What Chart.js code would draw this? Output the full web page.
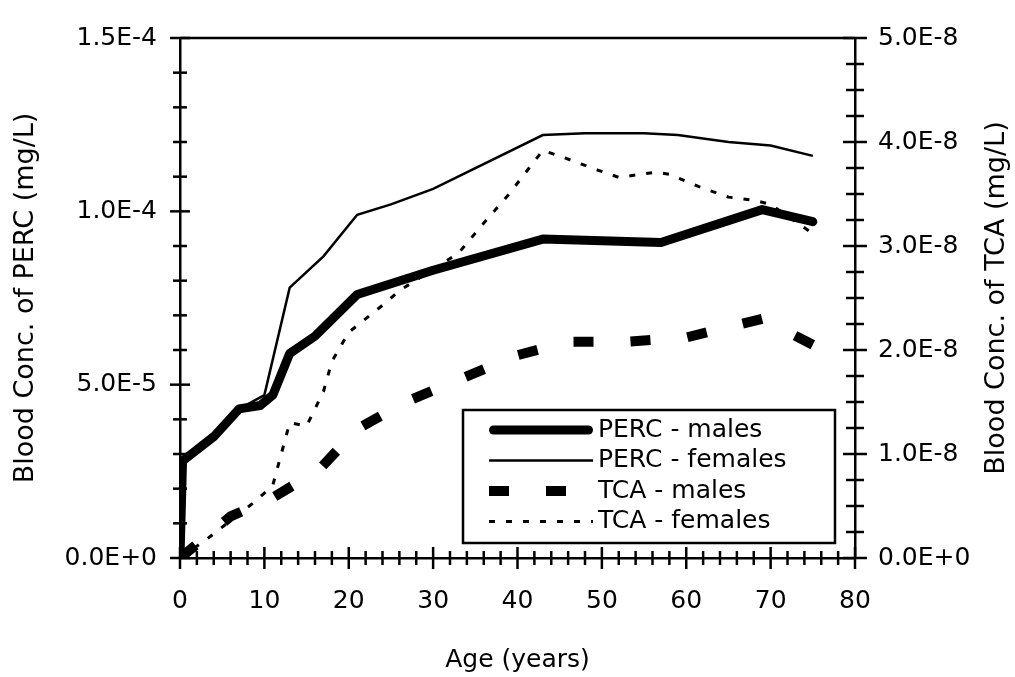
<!DOCTYPE html>
<html lang="en">
<head>
<meta charset="UTF-8" />
<title>Blood Conc. of PERC and TCA by age</title>
<script src="https://cdn.jsdelivr.net/npm/chart.js@4"></script>
<style>
  body { margin: 0; background: #fff; }
  #wrap { width: 1015px; height: 677px; }
</style>
</head>
<body>
<div id="wrap"><canvas id="chart" width="1015" height="677"></canvas></div>
<script>
// values: age in years, blood concentration in mg/L
const percMalesAge = [0, 0.3, 4, 7, 9.5, 11, 13, 16, 21, 30, 43, 50, 57, 69, 75];
const percMalesConc = [0, 2.8e-5, 3.5e-5, 4.3e-5, 4.4e-5, 4.7e-5, 5.9e-5, 6.4e-5, 7.6e-5, 8.3e-5, 9.2e-5, 9.15e-5, 9.1e-5, 1.005e-4, 9.7e-5];

const percFemalesAge = [0, 0.3, 4, 7, 10, 13, 17, 21, 25, 30, 43, 48, 55, 59, 65, 70, 75];
const percFemalesConc = [0, 2.8e-5, 3.5e-5, 4.3e-5, 4.7e-5, 7.8e-5, 8.7e-5, 9.9e-5, 1.02e-4, 1.065e-4, 1.22e-4, 1.225e-4, 1.225e-4, 1.22e-4, 1.2e-4, 1.19e-4, 1.16e-4];

const tcaMalesAge = [0, 6, 11, 16.5, 21, 27, 33.5, 40, 46, 53, 60, 69, 75];
const tcaMalesConc = [0, 0.4e-8, 0.58e-8, 0.85e-8, 1.24e-8, 1.51e-8, 1.73e-8, 1.95e-8, 2.08e-8, 2.08e-8, 2.12e-8, 2.3e-8, 2.05e-8];

const tcaFemalesAge = [0, 3, 9, 11, 13, 15, 17, 18, 20, 24, 26, 33, 36, 39, 43, 45.5, 49.5, 52, 56.5, 58, 61.5, 65, 68, 70, 75];
const tcaFemalesConc = [0, 0.17e-8, 0.55e-8, 0.7e-8, 1.3e-8, 1.27e-8, 1.6e-8, 1.89e-8, 2.17e-8, 2.43e-8, 2.57e-8, 2.93e-8, 3.22e-8, 3.5e-8, 3.92e-8, 3.85e-8, 3.73e-8, 3.66e-8, 3.71e-8, 3.69e-8, 3.57e-8, 3.47e-8, 3.44e-8, 3.4e-8, 3.12e-8];

const ageMin = 0, ageMax = 80, ageStep = 10, ageMinor = 2;
const percMax = 1.5e-4, percStep = 5e-5, percMinor = 1e-5;
const tcaMax = 5e-8, tcaStep = 1e-8, tcaMinor = 2.5e-9;
const tcaTitle = "Blood Conc. of TCA (mg/L)";

const FONT = "'DejaVu Sans', 'Liberation Sans', sans-serif";
Chart.defaults.font.family = FONT;
Chart.defaults.font.size = 25;
Chart.defaults.color = "#000";

function pairs(xs, ys) {
  return xs.map((x, i) => ({ x: x, y: ys[i] }));
}

function sci(v) {
  return Number(v).toExponential(1).toUpperCase();
}

// tick marks that cross the axis lines, plus the top frame line
const crossTicks = {
  id: "crossTicks",
  afterDraw(chart) {
    const { ctx, chartArea: ca, scales } = chart;
    ctx.save();
    ctx.strokeStyle = "#000";
    ctx.lineWidth = 2.5;
    const seg = (x1, y1, x2, y2) => {
      ctx.beginPath();
      ctx.moveTo(x1, y1);
      ctx.lineTo(x2, y2);
      ctx.stroke();
    };
    seg(ca.left, ca.top, ca.right, ca.top);

    const nx = Math.round((ageMax - ageMin) / ageMinor);
    for (let i = 0; i <= nx; i++) {
      const v = ageMin + i * ageMinor;
      const px = scales.x.getPixelForValue(v);
      const len = v % ageStep === 0 ? 11 : 7;
      seg(px, ca.bottom - len, px, ca.bottom + len);
    }
    const ny = Math.round(percMax / percMinor);
    for (let i = 0; i <= ny; i++) {
      const py = scales.y.getPixelForValue(i * percMinor);
      const major = i % Math.round(percStep / percMinor) === 0;
      seg(ca.left - (major ? 10 : 7), py, ca.left + (major ? 10 : 7), py);
    }
    const ny2 = Math.round(tcaMax / tcaMinor);
    for (let i = 0; i <= ny2; i++) {
      const py = scales.y2.getPixelForValue(i * tcaMinor);
      const major = i % Math.round(tcaStep / tcaMinor) === 0;
      seg(ca.right - (major ? 12 : 9), py, ca.right + (major ? 12 : 9), py);
    }

    // right axis title reads bottom-to-top, like the left one
    ctx.translate(997, (ca.top + ca.bottom) / 2);
    ctx.rotate(-Math.PI / 2);
    ctx.fillStyle = "#000";
    ctx.font = "27px " + FONT;
    ctx.textAlign = "center";
    ctx.textBaseline = "middle";
    ctx.fillText(tcaTitle, 0, 0);
    ctx.restore();
  }
};

// boxed legend inside the plot, lower right
const boxLegend = {
  id: "boxLegend",
  afterDraw(chart) {
    const { ctx, chartArea: ca } = chart;
    const left = ca.left + 283, top = ca.top + 372, w = 372, h = 133;
    ctx.save();
    ctx.fillStyle = "#fff";
    ctx.fillRect(left, top, w, h);
    ctx.strokeStyle = "#000";
    ctx.lineWidth = 2.5;
    ctx.strokeRect(left, top, w, h);
    chart.data.datasets.forEach((ds, i) => {
      const y = top + 20 + i * 30.5;
      const inset = ds.borderCapStyle === "round" ? ds.borderWidth / 2 : 0;
      ctx.beginPath();
      ctx.lineWidth = ds.borderWidth;
      ctx.lineCap = ds.borderCapStyle || "butt";
      ctx.setLineDash(ds.borderDash || []);
      ctx.moveTo(left + 26 + inset, y);
      ctx.lineTo(left + 130 - inset, y);
      ctx.stroke();
      ctx.setLineDash([]);
      ctx.fillStyle = "#000";
      ctx.font = "25px " + FONT;
      ctx.textBaseline = "middle";
      ctx.textAlign = "left";
      ctx.fillText(ds.label, left + 135, y);
    });
    ctx.restore();
  }
};

new Chart(document.getElementById("chart"), {
  type: "line",
  data: {
    datasets: [
      {
        label: "PERC - males",
        data: pairs(percMalesAge, percMalesConc),
        yAxisID: "y",
        borderColor: "#000",
        borderWidth: 9,
        borderCapStyle: "round",
        borderJoinStyle: "round"
      },
      {
        label: "PERC - females",
        data: pairs(percFemalesAge, percFemalesConc),
        yAxisID: "y",
        borderColor: "#000",
        borderWidth: 2.5
      },
      {
        label: "TCA - males",
        data: pairs(tcaMalesAge, tcaMalesConc),
        yAxisID: "y2",
        borderColor: "#000",
        borderWidth: 10,
        borderDash: [20, 37]
      },
      {
        label: "TCA - females",
        data: pairs(tcaFemalesAge, tcaFemalesConc),
        yAxisID: "y2",
        borderColor: "#000",
        borderWidth: 3,
        borderDash: [6, 11]
      }
    ]
  },
  options: {
    responsive: false,
    animation: false,
    devicePixelRatio: 1,
    layout: { padding: { top: 28 } },
    elements: {
      point: { radius: 0 },
      line: { tension: 0, fill: false }
    },
    plugins: {
      legend: { display: false },
      tooltip: { enabled: false }
    },
    scales: {
      x: {
        type: "linear",
        position: "bottom",
        min: ageMin,
        max: ageMax,
        afterFit: (s) => { s.height = 119; },
        grid: { display: false, drawTicks: false },
        border: { display: true, color: "#000", width: 2.5 },
        ticks: { stepSize: ageStep, padding: 28 },
        title: { display: true, text: "Age (years)", padding: { top: 0, bottom: 2 } }
      },
      y: {
        type: "linear",
        position: "left",
        min: 0,
        max: percMax,
        afterFit: (s) => { s.width = 180; },
        grid: { display: false, drawTicks: false },
        border: { display: true, color: "#000", width: 2.5 },
        ticks: { stepSize: percStep, padding: 23, callback: (v) => sci(v) },
        title: {
          display: true,
          text: "Blood Conc. of PERC (mg/L)",
          font: { size: 27 },
          padding: { top: 10, bottom: 0 }
        }
      },
      y2: {
        type: "linear",
        position: "right",
        min: 0,
        max: tcaMax,
        afterFit: (s) => { s.width = 160; },
        grid: { display: false, drawTicks: false },
        border: { display: true, color: "#000", width: 2.5 },
        ticks: { stepSize: tcaStep, padding: 23, callback: (v) => sci(v) },
        title: { display: false }
      }
    }
  },
  plugins: [crossTicks, boxLegend]
});
</script>
</body>
</html>
